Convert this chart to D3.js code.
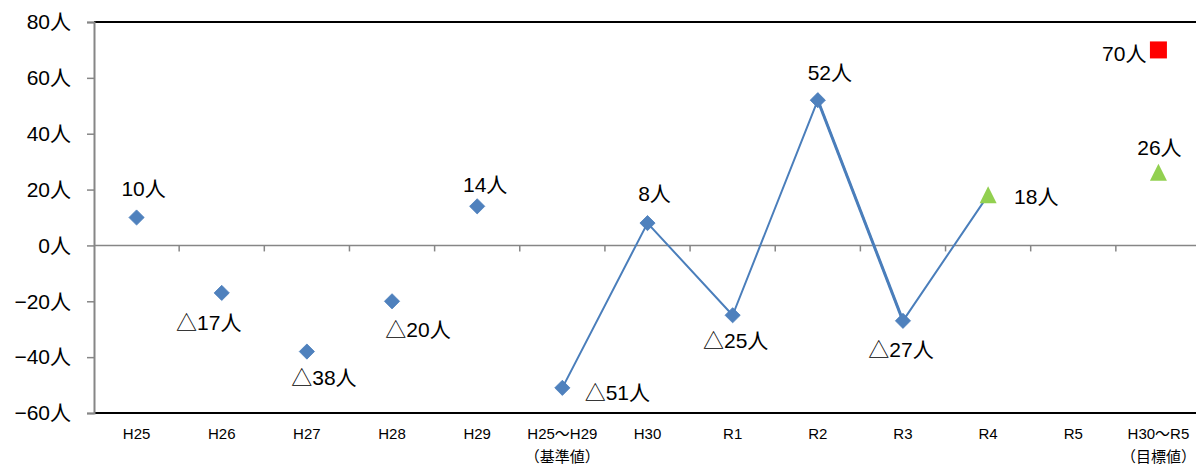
<!DOCTYPE html>
<html>
<head>
<meta charset="utf-8">
<script src="https://cdn.jsdelivr.net/npm/d3@7"></script>
<style>
  html, body { margin: 0; padding: 0; background: #fff; }
  svg { display: block; }
  text { font-family: "Liberation Sans", Arial, "Noto Sans CJK JP", sans-serif; fill: #000; }
</style>
</head>
<body>
<svg id="chart" width="1196" height="470"></svg>
<script>
// ---------- data ----------
const categories = ["H25", "H26", "H27", "H28", "H29", "H25～H29|（基準値）", "H30", "R1", "R2", "R3", "R4", "R5", "H30～R5|（目標値）"];
const actualValues   = [10, -17, -38, -20, 14, -51, 8, -25, 52, -27, null, null, null];
const trendValues    = [null, null, null, null, null, -51, 8, -25, 52, -27, 18, null, null];
const estimateValues = [null, null, null, null, null, null, null, null, null, null, 18, null, 26];
const targetValues   = [null, null, null, null, null, null, null, null, null, null, null, null, 70];
const yTicks = [-60, -40, -20, 0, 20, 40, 60, 80];

// label text: negatives use △
const fmt = v => (v < 0 ? "△" + Math.abs(v) : String(v)) + "人";

// label placement (layout, relative to the mark)
const labelNudge = {
  0: [7, -22, "middle"], 1: [-13, 37, "middle"], 2: [17, 33, "middle"], 3: [26, 36, "middle"],
  4: [8, -14, "middle"], 5: [55, 12, "middle"], 6: [7, -22, "middle"], 7: [3, 33, "middle"],
  8: [12, -20, "middle"], 9: [-2, 36, "middle"], 10: [26, 9, "start"], 12: [1, -18, "middle"]
};
const targetNudge = [-12, 11, "end"];

// ---------- layout ----------
const svg = d3.select("#chart");
const mLeft = 94, mTop = 22, mBottom = 413, mRight = 1201;

const x = d3.scaleBand().domain(d3.range(categories.length)).range([mLeft, mRight]).padding(0);
const y = d3.scaleLinear().domain([-60, 80]).range([mBottom, mTop]);
const cx = i => x(i) + x.bandwidth() / 2;

// top & bottom borders
svg.append("line").attr("x1", mLeft).attr("x2", 1196).attr("y1", y(80)).attr("y2", y(80))
  .attr("stroke", "#000").attr("stroke-width", 2);
svg.append("line").attr("x1", mLeft).attr("x2", 1196).attr("y1", y(-60)).attr("y2", y(-60))
  .attr("stroke", "#000").attr("stroke-width", 2);

// y axis
const yAxis = d3.axisLeft(y).tickValues(yTicks).tickSize(7).tickPadding(16)
  .tickFormat(d => (d < 0 ? "−" + Math.abs(d) : d) + "人");
const gy = svg.append("g").attr("transform", `translate(${mLeft},0)`).call(yAxis);
gy.select(".domain").attr("stroke", "#868686").attr("stroke-width", 2);
gy.selectAll(".tick line").attr("stroke", "#868686").attr("stroke-width", 1.5);
gy.selectAll(".tick text").attr("font-size", 21).attr("fill", "#000")
  .style("font-family", '"Liberation Sans", Arial, "Noto Sans CJK JP", sans-serif');

// zero line with category ticks
svg.append("line").attr("x1", mLeft).attr("x2", 1196).attr("y1", y(0)).attr("y2", y(0))
  .attr("stroke", "#868686").attr("stroke-width", 1.5);
svg.append("g").selectAll("line").data(d3.range(1, categories.length)).join("line")
  .attr("x1", d => x(d)).attr("x2", d => x(d))
  .attr("y1", y(0)).attr("y2", y(0) + 6)
  .attr("stroke", "#868686").attr("stroke-width", 1.5);

// x category labels
const xl = svg.append("g").selectAll("text").data(categories).join("text")
  .attr("x", (d, i) => cx(i)).attr("y", 439)
  .attr("text-anchor", "middle").attr("font-size", 15);
xl.each(function(d, i) {
  const parts = d.split("|");
  d3.select(this).selectAll("tspan").data(parts).join("tspan")
    .attr("x", cx(i)).attr("dy", (p, k) => k === 0 ? 0 : 23).text(p => p);
});

// trend line
const lineGen = d3.line().defined(d => d.v !== null).x(d => cx(d.i)).y(d => y(d.v));
const trendPts = trendValues.map((v, i) => ({ i, v }));
svg.append("path").datum(trendPts).attr("d", lineGen)
  .attr("fill", "none").attr("stroke", "#4a7ebb").attr("stroke-width", 2)
  .attr("stroke-linejoin", "round");
// overlapping second series segment (R2 → R3)
svg.append("path").datum(trendPts.filter(d => d.i === 8 || d.i === 9)).attr("d", lineGen)
  .attr("fill", "none").attr("stroke", "#4a7ebb").attr("stroke-width", 3);

// diamonds
const dia = 7.6;
svg.append("g").selectAll("path").data(actualValues.map((v, i) => ({ i, v })).filter(d => d.v !== null))
  .join("path")
  .attr("d", d => `M${cx(d.i)},${y(d.v) - dia}L${cx(d.i) + dia},${y(d.v)}L${cx(d.i)},${y(d.v) + dia}L${cx(d.i) - dia},${y(d.v)}Z`)
  .attr("fill", "#4f81bd").attr("stroke", "#4a7ebb").attr("stroke-width", 0.8);

// triangles
svg.append("g").selectAll("path").data(estimateValues.map((v, i) => ({ i, v })).filter(d => d.v !== null))
  .join("path")
  .attr("d", d => `M${cx(d.i)},${y(d.v) - 9}L${cx(d.i) + 8.5},${y(d.v) + 8}L${cx(d.i) - 8.5},${y(d.v) + 8}Z`)
  .attr("fill", "#92d050");

// target square
svg.append("g").selectAll("rect").data(targetValues.map((v, i) => ({ i, v })).filter(d => d.v !== null))
  .join("rect")
  .attr("x", d => cx(d.i) - 8.5).attr("y", d => y(d.v) - 8.5)
  .attr("width", 17).attr("height", 17).attr("fill", "#ff0000");

// data labels
const labelData = [];
actualValues.forEach((v, i) => { if (v !== null) labelData.push({ i, v }); });
estimateValues.forEach((v, i) => { if (v !== null) labelData.push({ i, v }); });
svg.append("g").selectAll("text").data(labelData).join("text")
  .attr("x", d => cx(d.i) + labelNudge[d.i][0])
  .attr("y", d => y(d.v) + labelNudge[d.i][1])
  .attr("text-anchor", d => labelNudge[d.i][2])
  .attr("font-size", 21)
  .text(d => fmt(d.v));
svg.append("g").selectAll("text").data(targetValues.map((v, i) => ({ i, v })).filter(d => d.v !== null))
  .join("text")
  .attr("x", d => cx(d.i) + targetNudge[0])
  .attr("y", d => y(d.v) + targetNudge[1])
  .attr("text-anchor", targetNudge[2])
  .attr("font-size", 21)
  .text(d => fmt(d.v));
</script>
</body>
</html>
